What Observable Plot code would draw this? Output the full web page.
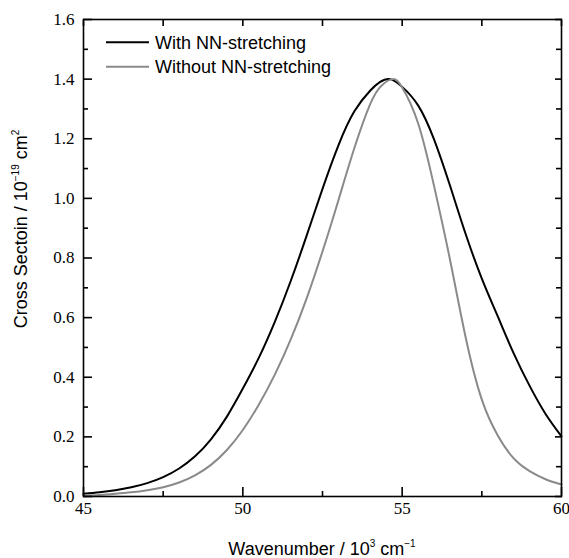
<!DOCTYPE html>
<html><head><meta charset="utf-8">
<script src="https://cdn.jsdelivr.net/npm/d3@7"></script>
<script src="https://cdn.jsdelivr.net/npm/@observablehq/plot@0.6"></script>
<style>body{margin:0;background:#fff}#chart{width:569px;height:558px}</style>
</head><body><div id="chart"></div>
<script>
// Series names
const seriesNames = ["With NN-stretching", "Without NN-stretching"];
const seriesColors = ["#000000", "#8a8a8a"];

// With NN-stretching (black)
const wnWith = [45,45.5,46,46.5,47,47.5,48,48.5,49,49.5,50,50.5,51,51.5,52,52.5,53,53.5,54,54.3,54.62,55,55.5,56,56.5,57,57.5,58,58.5,59,59.5,60];
const csWith = [0.009,0.014,0.021,0.031,0.045,0.065,0.094,0.135,0.192,0.268,0.362,0.465,0.585,0.722,0.874,1.032,1.178,1.292,1.362,1.390,1.400,1.374,1.312,1.198,1.043,0.878,0.731,0.604,0.480,0.371,0.277,0.202];

// Without NN-stretching (gray)
const wnWithout = [45,45.5,46,46.5,47,47.5,48,48.5,49,49.5,50,50.5,51,51.5,52,52.5,53,53.5,54,54.35,54.7,55,55.5,56,56.5,57,57.5,58,58.5,59,59.5,60];
const csWithout = [0.003,0.005,0.009,0.014,0.021,0.031,0.047,0.071,0.106,0.156,0.223,0.308,0.408,0.526,0.664,0.822,0.994,1.169,1.317,1.378,1.400,1.372,1.252,1.042,0.795,0.530,0.325,0.205,0.128,0.085,0.058,0.040];

// Ticks
const xMajor = [45, 50, 55, 60];
const xMinor = [47.5, 52.5, 57.5];
const yMajor = [0, 0.2, 0.4, 0.6, 0.8, 1.0, 1.2, 1.4, 1.6];
const yMinor = [0.1, 0.3, 0.5, 0.7, 0.9, 1.1, 1.3, 1.5];

const rowsWith = wnWith.map((x, i) => ({x, y: csWith[i]}));
const rowsWithout = wnWithout.map((x, i) => ({x, y: csWithout[i]}));

const sans = "'Liberation Sans', Arial, Helvetica, sans-serif";
const serif = "'Liberation Serif', 'Times New Roman', serif";
const axisW = 1.6;

const plot = Plot.plot({
  width: 569, height: 558,
  marginLeft: 83, marginRight: 8, marginTop: 19, marginBottom: 62,
  x: {domain: [45, 60]},
  y: {domain: [0, 1.6]},
  style: {fontFamily: serif, fontSize: "17px", color: "#000", background: "#fff"},
  marks: [
    Plot.line(rowsWith, {x: "x", y: "y", stroke: seriesColors[0], strokeWidth: 2, curve: "natural"}),
    Plot.line(rowsWithout, {x: "x", y: "y", stroke: seriesColors[1], strokeWidth: 2, curve: "natural"}),
    // inward ticks
    Plot.axisX(xMajor, {anchor: "bottom", tickSize: -9, text: null, label: null, strokeWidth: axisW}),
    Plot.axisX(xMinor, {anchor: "bottom", tickSize: -5, text: null, label: null, strokeWidth: axisW}),
    Plot.axisX(xMajor, {anchor: "top", tickSize: -6, text: null, label: null, strokeWidth: axisW}),
    Plot.axisX(xMinor, {anchor: "top", tickSize: -6, text: null, label: null, strokeWidth: axisW}),
    Plot.axisY(yMajor, {anchor: "left", tickSize: -9, text: null, label: null, strokeWidth: axisW}),
    Plot.axisY(yMinor, {anchor: "left", tickSize: -5, text: null, label: null, strokeWidth: axisW}),
    Plot.axisY(yMajor, {anchor: "right", tickSize: -7, text: null, label: null, strokeWidth: axisW}),
    Plot.axisY(yMinor, {anchor: "right", tickSize: -6, text: null, label: null, strokeWidth: axisW}),
    // labels
    Plot.axisX(xMajor, {anchor: "bottom", tickSize: 0, tickPadding: 5, label: null, fontSize: 17, fontFamily: serif, tickFormat: d3.format("d")}),
    Plot.axisY(yMajor, {anchor: "left", tickSize: 0, tickPadding: 9, label: null, fontSize: 17, fontFamily: serif, tickFormat: d3.format(".1f")}),
    Plot.frame({stroke: "#000", strokeWidth: axisW})
  ]
});

document.getElementById("chart").appendChild(plot);

const svg = d3.select(plot);
// make sure tick labels use the serif face at full size
svg.selectAll('g[aria-label$="tick label"]')
  .style("font-size", "17px").style("font-family", serif).style("font-variant", "normal");

const [xr0, xr1] = plot.scale("x").range;

// X axis title
const xt = svg.append("text")
  .attr("x", (xr0 + xr1) / 2).attr("y", 555)
  .attr("text-anchor", "middle")
  .style("font-family", sans).style("font-size", "18px").attr("fill", "#000");
xt.append("tspan").text("Wavenumber / 10");
xt.append("tspan").attr("dy", -8).style("font-size", "10px").text("3");
xt.append("tspan").attr("dy", 8).text(" cm");
xt.append("tspan").attr("dy", -8).style("font-size", "10px").text("\u22121");

// Y axis title
const yt = svg.append("text")
  .attr("transform", "translate(27,229) rotate(-90)")
  .attr("text-anchor", "middle")
  .style("font-family", sans).style("font-size", "18px").attr("fill", "#000");
yt.append("tspan").text("Cross Sectoin / 10");
yt.append("tspan").attr("dy", -8).style("font-size", "10px").text("\u221219");
yt.append("tspan").attr("dy", 8).text(" cm");
yt.append("tspan").attr("dy", -8).style("font-size", "10px").text("2");

// Legend
const lg = svg.append("g").style("font-family", sans).style("font-size", "18px");
seriesNames.forEach((name, i) => {
  const y = 42.3 + i * 24.5;
  lg.append("line").attr("x1", 106).attr("x2", 149).attr("y1", y).attr("y2", y)
    .attr("stroke", seriesColors[i]).attr("stroke-width", 2);
  lg.append("text").attr("x", 155).attr("y", y + 6.5).attr("text-anchor", "start")
    .attr("fill", "#000").text(name);
});
</script>
</body></html>
